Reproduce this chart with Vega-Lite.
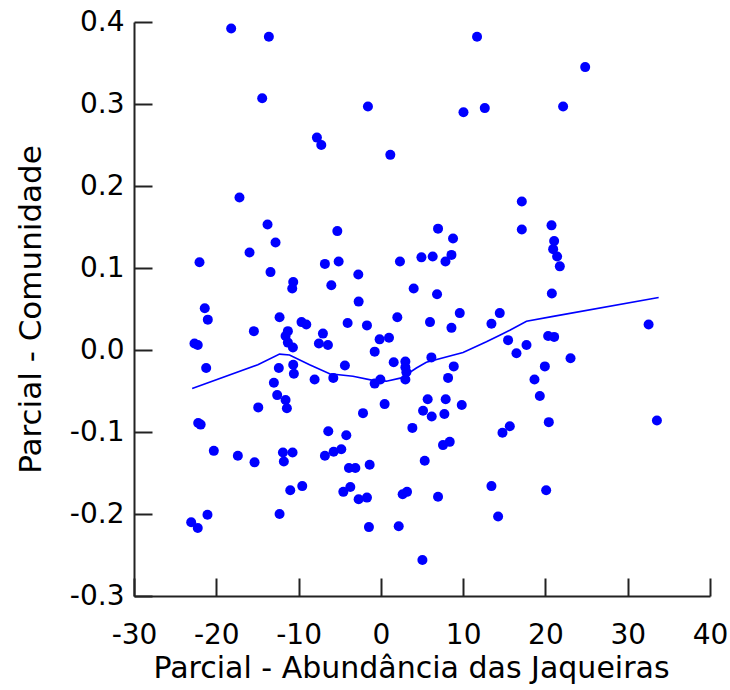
{
  "$schema": "https://vega.github.io/schema/vega-lite/v6.json",
  "autosize": {"type": "none"},
  "padding": {"left": 134, "top": 22, "right": 20, "bottom": 94},
  "width": 576,
  "height": 574,
  "background": "white",
  "datasets": {
    "pontos": [
      {"abund": -18.19, "comun": 0.392}, {"abund": -13.61, "comun": 0.382}, {"abund": -14.42, "comun": 0.307},
      {"abund": -7.77, "comun": 0.259}, {"abund": -7.24, "comun": 0.250}, {"abund": -17.18, "comun": 0.186},
      {"abund": 11.69, "comun": 0.382}, {"abund": -1.57, "comun": 0.297}, {"abund": 10.04, "comun": 0.290},
      {"abund": 12.63, "comun": 0.295}, {"abund": 1.15, "comun": 0.238}, {"abund": 24.83, "comun": 0.345},
      {"abund": 22.15, "comun": 0.297}, {"abund": 17.13, "comun": 0.181},
      {"abund": -13.77, "comun": 0.153}, {"abund": -12.8, "comun": 0.131}, {"abund": -15.96, "comun": 0.119},
      {"abund": -22.04, "comun": 0.107}, {"abund": -13.41, "comun": 0.095}, {"abund": -10.65, "comun": 0.083},
      {"abund": -10.77, "comun": 0.075}, {"abund": -21.4, "comun": 0.051}, {"abund": -21.03, "comun": 0.037},
      {"abund": -12.31, "comun": 0.040}, {"abund": -9.64, "comun": 0.034}, {"abund": -9.06, "comun": 0.031},
      {"abund": -15.43, "comun": 0.023}, {"abund": -11.3, "comun": 0.023}, {"abund": -11.58, "comun": 0.017},
      {"abund": -11.3, "comun": 0.009}, {"abund": -10.69, "comun": 0.003}, {"abund": -22.65, "comun": 0.008},
      {"abund": -22.25, "comun": 0.006}, {"abund": -21.23, "comun": -0.022}, {"abund": -12.4, "comun": -0.022},
      {"abund": -10.65, "comun": -0.018}, {"abund": -10.57, "comun": -0.029}, {"abund": -8.05, "comun": -0.036},
      {"abund": -13.0, "comun": -0.040}, {"abund": -12.6, "comun": -0.055}, {"abund": -11.58, "comun": -0.061},
      {"abund": -5.29, "comun": 0.145}, {"abund": 6.95, "comun": 0.148}, {"abund": 8.77, "comun": 0.136},
      {"abund": -6.8, "comun": 0.105}, {"abund": -5.13, "comun": 0.108}, {"abund": 2.32, "comun": 0.108},
      {"abund": 4.93, "comun": 0.113}, {"abund": 6.30, "comun": 0.114}, {"abund": 8.58, "comun": 0.116},
      {"abund": 7.85, "comun": 0.108}, {"abund": -2.74, "comun": 0.092}, {"abund": -6.02, "comun": 0.079},
      {"abund": 3.99, "comun": 0.075}, {"abund": 6.83, "comun": 0.068}, {"abund": -2.70, "comun": 0.059},
      {"abund": 9.59, "comun": 0.045}, {"abund": 14.45, "comun": 0.045}, {"abund": 2.0, "comun": 0.040},
      {"abund": -4.04, "comun": 0.033}, {"abund": -1.69, "comun": 0.030}, {"abund": 5.97, "comun": 0.034},
      {"abund": 8.58, "comun": 0.027}, {"abund": 13.44, "comun": 0.032}, {"abund": -7.04, "comun": 0.020},
      {"abund": -7.53, "comun": 0.008}, {"abund": -6.43, "comun": 0.006}, {"abund": -0.15, "comun": 0.013},
      {"abund": 0.99, "comun": 0.015}, {"abund": -0.75, "comun": -0.002}, {"abund": 15.46, "comun": 0.012},
      {"abund": -4.37, "comun": -0.019}, {"abund": -5.78, "comun": -0.034}, {"abund": -0.75, "comun": -0.041},
      {"abund": -0.06, "comun": -0.036}, {"abund": 1.56, "comun": -0.015}, {"abund": 2.98, "comun": -0.014},
      {"abund": 2.98, "comun": -0.021}, {"abund": 3.10, "comun": -0.027}, {"abund": 2.98, "comun": -0.036},
      {"abund": 6.14, "comun": -0.009}, {"abund": 8.86, "comun": -0.020}, {"abund": 8.17, "comun": -0.034},
      {"abund": 17.13, "comun": 0.147}, {"abund": 20.74, "comun": 0.152}, {"abund": 21.06, "comun": 0.133},
      {"abund": 20.94, "comun": 0.123}, {"abund": 21.42, "comun": 0.114}, {"abund": 21.75, "comun": 0.102},
      {"abund": 20.78, "comun": 0.069}, {"abund": 20.33, "comun": 0.017}, {"abund": 21.06, "comun": 0.016},
      {"abund": 32.54, "comun": 0.031}, {"abund": 17.7, "comun": 0.006}, {"abund": 16.48, "comun": -0.004},
      {"abund": 23.05, "comun": -0.010}, {"abund": 19.93, "comun": -0.020}, {"abund": 18.67, "comun": -0.036},
      {"abund": 19.32, "comun": -0.056},
      {"abund": -11.42, "comun": -0.071}, {"abund": -14.9, "comun": -0.070}, {"abund": -22.2, "comun": -0.089},
      {"abund": -21.9, "comun": -0.091}, {"abund": -20.3, "comun": -0.123}, {"abund": -17.38, "comun": -0.129},
      {"abund": -15.35, "comun": -0.137}, {"abund": -11.9, "comun": -0.125}, {"abund": -10.73, "comun": -0.125},
      {"abund": -11.79, "comun": -0.136}, {"abund": -9.55, "comun": -0.166}, {"abund": -11.01, "comun": -0.171},
      {"abund": -21.07, "comun": -0.201}, {"abund": -12.31, "comun": -0.200}, {"abund": -23.05, "comun": -0.210},
      {"abund": -22.25, "comun": -0.217},
      {"abund": -2.17, "comun": -0.077}, {"abund": 0.46, "comun": -0.066}, {"abund": 5.69, "comun": -0.060},
      {"abund": 7.88, "comun": -0.060}, {"abund": 9.83, "comun": -0.067}, {"abund": 5.13, "comun": -0.074},
      {"abund": 6.18, "comun": -0.081}, {"abund": 7.72, "comun": -0.078}, {"abund": 3.83, "comun": -0.095},
      {"abund": -6.39, "comun": -0.099}, {"abund": -4.2, "comun": -0.104}, {"abund": -4.81, "comun": -0.121},
      {"abund": -5.74, "comun": -0.124}, {"abund": -6.8, "comun": -0.129}, {"abund": 7.55, "comun": -0.116},
      {"abund": 8.37, "comun": -0.112}, {"abund": -3.88, "comun": -0.144}, {"abund": -3.1, "comun": -0.144},
      {"abund": -1.36, "comun": -0.140}, {"abund": 5.33, "comun": -0.135}, {"abund": 13.44, "comun": -0.166},
      {"abund": -4.56, "comun": -0.173}, {"abund": -3.71, "comun": -0.167}, {"abund": -2.70, "comun": -0.182},
      {"abund": -1.69, "comun": -0.180}, {"abund": 2.65, "comun": -0.176}, {"abund": 3.18, "comun": -0.173},
      {"abund": 6.95, "comun": -0.179}, {"abund": 14.25, "comun": -0.203}, {"abund": -1.45, "comun": -0.216},
      {"abund": 2.17, "comun": -0.215}, {"abund": 5.05, "comun": -0.256},
      {"abund": 14.78, "comun": -0.101}, {"abund": 15.67, "comun": -0.093}, {"abund": 20.41, "comun": -0.088},
      {"abund": 33.55, "comun": -0.086}, {"abund": 20.09, "comun": -0.171}
    ],
    "suavizado": [
      {"abund": -22.93, "comun": -0.047}, {"abund": -14.95, "comun": -0.018}, {"abund": -12.31, "comun": -0.005},
      {"abund": -11.1, "comun": -0.006}, {"abund": -8.66, "comun": -0.018}, {"abund": -6.23, "comun": -0.029},
      {"abund": -3.39, "comun": -0.032}, {"abund": -0.96, "comun": -0.037}, {"abund": 0.67, "comun": -0.038},
      {"abund": 2.49, "comun": -0.034}, {"abund": 4.32, "comun": -0.022}, {"abund": 5.53, "comun": -0.015},
      {"abund": 9.99, "comun": -0.003}, {"abund": 12.83, "comun": 0.010}, {"abund": 14.45, "comun": 0.018},
      {"abund": 15.67, "comun": 0.024}, {"abund": 17.7, "comun": 0.035}, {"abund": 20.94, "comun": 0.041},
      {"abund": 33.76, "comun": 0.064}
    ]
  },
  "encoding": {
    "x": {
      "field": "abund", "type": "quantitative",
      "title": "Parcial - Abundância das Jaqueiras",
      "scale": {"domain": [-30, 40], "nice": false, "zero": false},
      "axis": {
        "values": [-30, -20, -10, 0, 10, 20, 30, 40],
        "format": "d",
        "labelExpr": "replace(datum.label, '\u2212', '-')",
        "labelPadding": 43,
        "titlePadding": 4,
        "titleX": 277
      }
    },
    "y": {
      "field": "comun", "type": "quantitative",
      "title": "Parcial - Comunidade",
      "scale": {"domain": [-0.3, 0.4], "nice": false, "zero": false},
      "axis": {
        "values": [-0.3, -0.2, -0.1, 0, 0.1, 0.2, 0.3, 0.4],
        "format": ".1f",
        "labelExpr": "replace(datum.label, '\u2212', '-')",
        "labelPadding": 28,
        "titlePadding": 22,
        "titleFontSize": 31
      }
    }
  },
  "layer": [
    {
      "data": {"name": "pontos"},
      "mark": {"type": "circle", "size": 100, "color": "#0000ff", "opacity": 1}
    },
    {
      "data": {"name": "suavizado"},
      "mark": {"type": "line", "color": "#0000ff", "strokeWidth": 1.6},
      "encoding": {"order": {"field": "abund", "type": "quantitative"}}
    }
  ],
  "config": {
    "view": {"stroke": null},
    "axis": {
      "grid": false,
      "domainColor": "#222222",
      "domainWidth": 2,
      "tickColor": "#222222",
      "tickWidth": 2,
      "tickSize": -18,
      "labelFont": "DejaVu Sans",
      "labelFontSize": 28,
      "labelColor": "#000000",
      "labelFlush": false,
      "labelOverlap": false,
      "titleFont": "DejaVu Sans",
      "titleFontSize": 30,
      "titleFontWeight": "normal",
      "titleColor": "#000000"
    }
  }
}
